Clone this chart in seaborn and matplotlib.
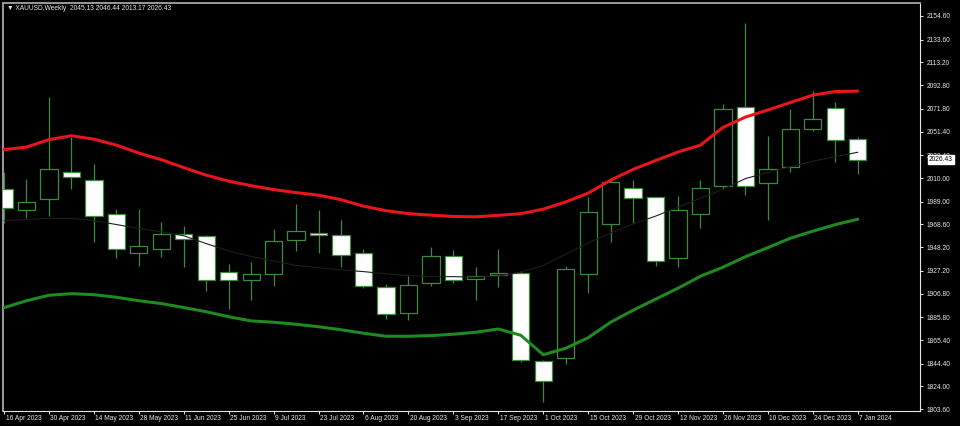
import numpy as np
import pandas as pd
import matplotlib
matplotlib.use("Agg")
import matplotlib.pyplot as plt
import matplotlib.transforms as mtransforms
import seaborn as sns

# weekly XAUUSD candles, 16 Apr 2023 .. 7 Jan 2024
opens = [2000.1, 1981.5, 1991.0, 2015.5, 2008.1, 1977.5, 1942.7, 1946.5, 1960.5, 1958.1,
         1925.7, 1918.8, 1924.8, 1954.5, 1961.0, 1959.6, 1942.7, 1912.9, 1889.6, 1915.9,
         1940.3, 1920.0, 1923.9, 1925.4, 1846.7, 1849.8, 1924.8, 1968.6, 2001.3, 1993.0,
         1938.2, 1977.8, 2002.8, 2073.1, 2005.2, 2020.0, 2053.9, 2072.2, 2045.13]
highs = [2015.5, 2008.8, 2082.0, 2046.8, 2022.4, 1982.8, 1982.2, 1970.9, 1967.0, 1959.0,
         1933.1, 1935.2, 1964.1, 1986.7, 1981.3, 1972.4, 1946.5, 1915.3, 1922.4, 1948.6,
         1945.6, 1930.2, 1947.1, 1927.1, 1847.5, 1931.3, 1993.0, 2009.0, 2008.1, 1993.5,
         1993.8, 2008.1, 2076.0, 2148.6, 2047.4, 2071.3, 2087.9, 2078.1, 2046.44]
lows = [1969.5, 1973.9, 1976.2, 2000.1, 1953.0, 1938.2, 1931.3, 1939.6, 1930.7, 1909.0,
        1892.9, 1901.6, 1913.5, 1945.0, 1942.7, 1930.7, 1912.3, 1884.6, 1883.7, 1913.5,
        1916.4, 1901.0, 1912.9, 1845.9, 1810.2, 1843.8, 1907.5, 1953.0, 1969.5, 1931.4,
        1930.7, 1965.0, 2000.1, 1994.7, 1972.4, 2015.5, 2052.0, 2023.9, 2013.17]
closes = [1982.9, 1988.8, 2017.7, 2010.5, 1976.0, 1947.1, 1949.2, 1959.9, 1955.4, 1918.8,
          1919.4, 1924.8, 1953.9, 1962.3, 1959.6, 1940.9, 1913.5, 1889.1, 1914.1, 1940.3,
          1919.4, 1922.4, 1925.4, 1848.0, 1828.9, 1928.4, 1979.3, 2006.6, 1991.8, 1935.8,
          1981.3, 2001.3, 2071.3, 2002.8, 2018.0, 2053.4, 2062.3, 2043.9, 2026.43]

# indicator lines
upper_band = [2035.4, 2037.6, 2044.3, 2047.7, 2044.7, 2039.4, 2032.3, 2026.4, 2019.3, 2012.6,
              2007.2, 2003.2, 1999.7, 1997.0, 1994.7, 1990.7, 1984.9, 1980.9, 1978.2, 1976.9,
              1975.7, 1975.4, 1976.7, 1978.2, 1982.2, 1988.7, 1996.5, 2008.1, 2017.7, 2025.6,
              2033.2, 2039.4, 2055.2, 2064.4, 2070.7, 2077.4, 2084.0, 2087.2, 2087.6]
lower_band = [1894.3, 1900.5, 1905.4, 1906.8, 1905.9, 1903.6, 1900.5, 1898.0, 1894.4, 1890.7,
              1886.2, 1882.5, 1881.3, 1879.5, 1877.3, 1874.6, 1871.5, 1868.8, 1868.8, 1869.4,
              1870.6, 1872.4, 1875.3, 1869.7, 1852.3, 1858.1, 1867.5, 1881.3, 1892.0, 1901.9,
              1911.7, 1922.4, 1930.4, 1939.8, 1947.9, 1956.3, 1962.6, 1968.4, 1973.3]
mid_line = [1972.0, 1973.0, 1974.0, 1974.0, 1972.0, 1968.5, 1965.0, 1962.0, 1958.5, 1951.5,
            1945.0, 1940.0, 1936.0, 1932.0, 1930.0, 1928.0, 1926.5, 1924.5, 1923.0, 1922.0,
            1922.0, 1921.5, 1922.5, 1926.0, 1932.0, 1942.0, 1952.0, 1961.0, 1969.0, 1976.0,
            1984.0, 1992.0, 2000.0, 2009.5, 2015.0, 2020.0, 2025.0, 2029.0, 2033.0]

date_labels = ["16 Apr 2023", "30 Apr 2023", "14 May 2023", "28 May 2023", "11 Jun 2023",
               "25 Jun 2023", "9 Jul 2023", "23 Jul 2023", "6 Aug 2023", "20 Aug 2023",
               "3 Sep 2023", "17 Sep 2023", "1 Oct 2023", "15 Oct 2023", "29 Oct 2023",
               "12 Nov 2023", "26 Nov 2023", "10 Dec 2023", "24 Dec 2023", "7 Jan 2024"]
price_ticks = [2154.60, 2133.60, 2113.20, 2092.80, 2071.80, 2051.40, 2030.40, 2010.00, 1989.00,
               1968.60, 1948.20, 1927.20, 1906.80, 1885.80, 1865.40, 1844.40, 1824.00, 1803.60]

title = "\u25bc XAUUSD,Weekly  2045.13 2046.44 2013.17 2026.43"
last_price = "2026.43"

df = pd.DataFrame({"open": opens, "high": highs, "low": lows, "close": closes,
                   "upper": upper_band, "lower": lower_band, "mid": mid_line})
df["idx"] = np.arange(len(df))

sns.set_theme(style="dark")
plt.rcParams["font.family"] = ["Liberation Sans", "DejaVu Sans"]

fg = "#e6e6e6"
cgreen = "#3c8c3c"

fig = plt.figure(figsize=(9.6, 4.26), dpi=100, facecolor="black")
ax = fig.add_axes([3 / 960, 15 / 426, 917 / 960, 408 / 426])
ax.set_facecolor("black")

# candles
bull = df["close"] >= df["open"]
ax.vlines(df["idx"], df["low"], df["high"], color=cgreen, lw=0.9, zorder=2)
body_lo = np.minimum(df["open"], df["close"])
body_h = np.maximum((df["close"] - df["open"]).abs(), 0.4)
ax.bar(df["idx"], body_h, bottom=body_lo, width=0.77,
       color=np.where(bull, "black", "white"), edgecolor=cgreen, linewidth=0.9, zorder=3)

# bands (middle line is dark, only shows across white bodies)
sns.lineplot(data=df, x="idx", y="mid", ax=ax, color="#1e1e1e", linewidth=0.8, zorder=4)
sns.lineplot(data=df, x="idx", y="upper", ax=ax, color="#e8161a", linewidth=2.2, zorder=5)
sns.lineplot(data=df, x="idx", y="lower", ax=ax, color="#1f8a1f", linewidth=2.2, zorder=5)

ax.set_xlim(-0.045, 40.77)
ax.set_ylim(1802.1, 2166.2)
ax.grid(False)
ax.set_xlabel("")
ax.set_ylabel("")

ax.set_xticks(np.arange(0, len(df), 2))
ax.set_xticklabels(date_labels)
ax.yaxis.tick_right()
ax.set_yticks(price_ticks)
ax.set_yticklabels([f"{v:.2f}" for v in price_ticks])
ax.tick_params(axis="x", direction="out", length=2.2, width=0.7, color=fg,
               labelsize=4.8, labelcolor=fg, pad=0.6, bottom=True)
ax.tick_params(axis="y", direction="out", length=2.5, width=0.7, color=fg,
               labelsize=4.8, labelcolor=fg, pad=2.5, right=True, left=False)
offset = mtransforms.ScaledTranslation(1.5 / 100, 0, fig.dpi_scale_trans)
for lab in ax.get_xticklabels():
    lab.set_horizontalalignment("left")
    lab.set_transform(lab.get_transform() + offset)

for side in ["left", "top"]:
    ax.spines[side].set_color("#9a9a9a")
    ax.spines[side].set_linewidth(1.4)
for side in ["right", "bottom"]:
    ax.spines[side].set_color(fg)
    ax.spines[side].set_linewidth(0.8)

# current price box (covers the 2030.40 label like in the terminal)
ax.annotate(last_price, xy=(1, closes[-1]), xycoords=("axes fraction", "data"),
            xytext=(6.6, 0), textcoords="offset points", ha="left", va="center",
            fontsize=4.8, color="black", annotation_clip=False, zorder=10,
            bbox=dict(boxstyle="square,pad=0.15", facecolor="white", edgecolor="white"))

fig.text(7 / 960, 1 - 9 / 426, title, color=fg, fontsize=4.8, ha="left", va="center")

fig.savefig("out.png", dpi=100, facecolor="black")
